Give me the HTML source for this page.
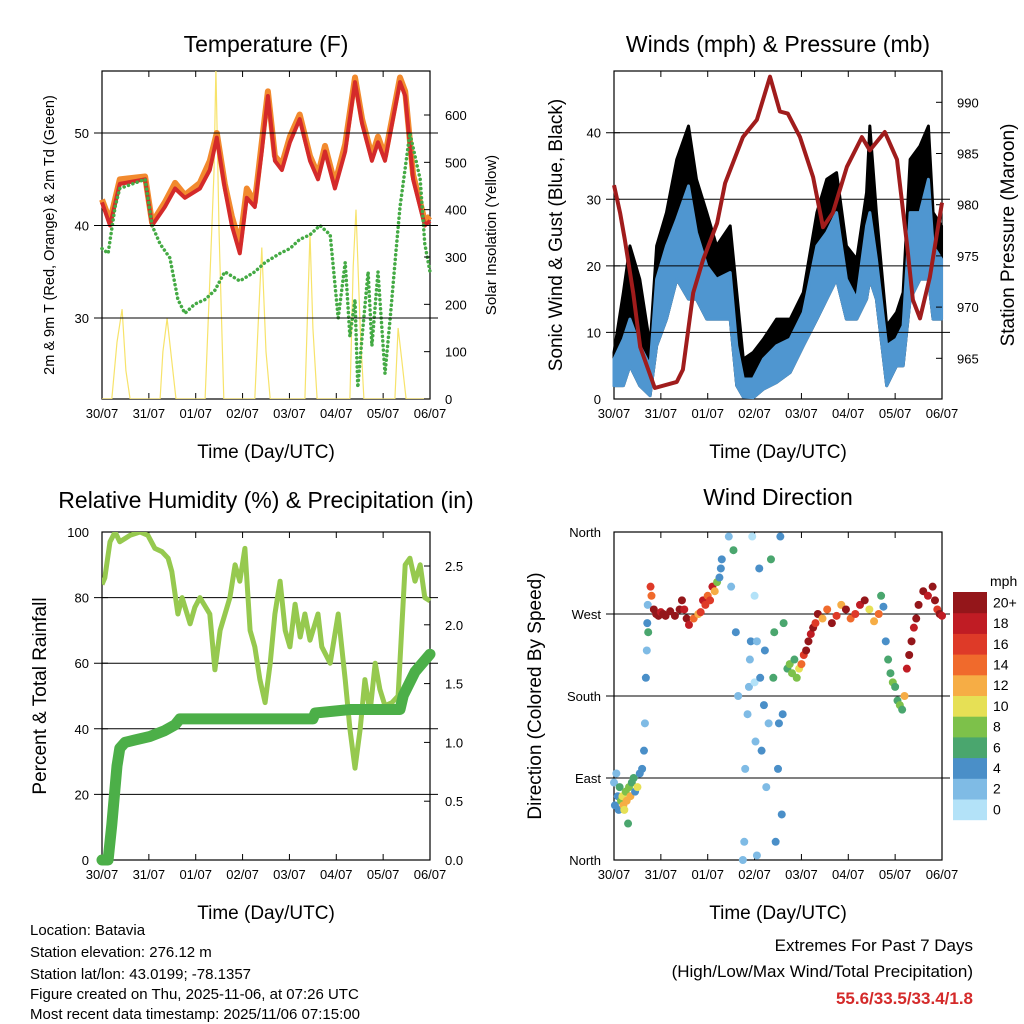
<!DOCTYPE html>
<html><head><meta charset="utf-8">
<style>
html,body{margin:0;padding:0;background:#fff;}
svg{display:block;font-family:"Liberation Sans",Arial,sans-serif;}
</style></head>
<body>
<svg id="c" width="1024" height="1024" viewBox="0 0 1024 1024" xmlns="http://www.w3.org/2000/svg">
<rect width="1024" height="1024" fill="#fff"/>
<text x="266" y="52" font-size="23" text-anchor="middle">Temperature (F)</text>
<text x="778" y="52" font-size="23" text-anchor="middle">Winds (mph) &amp; Pressure (mb)</text>
<text x="266" y="508" font-size="23" text-anchor="middle">Relative Humidity (%) &amp; Precipitation (in)</text>
<text x="778" y="505" font-size="23" text-anchor="middle">Wind Direction</text>
<text transform="translate(54,235) rotate(-90)" font-size="14.5" text-anchor="middle">2m &amp; 9m T (Red, Orange) &amp; 2m Td (Green)</text>
<text transform="translate(496,235) rotate(-90)" font-size="15" text-anchor="middle">Solar Insolation (Yellow)</text>
<text transform="translate(562,235) rotate(-90)" font-size="19" text-anchor="middle">Sonic Wind &amp; Gust (Blue, Black)</text>
<text transform="translate(1014,235) rotate(-90)" font-size="19" text-anchor="middle">Station Pressure (Maroon)</text>
<text transform="translate(46,696) rotate(-90)" font-size="19" text-anchor="middle">Percent &amp; Total Rainfall</text>
<text transform="translate(541,696) rotate(-90)" font-size="19" text-anchor="middle">Direction (Colored By Speed)</text>
<text x="266" y="458" font-size="19" text-anchor="middle">Time (Day/UTC)</text>
<text x="778" y="458" font-size="19" text-anchor="middle">Time (Day/UTC)</text>
<text x="266" y="919" font-size="19" text-anchor="middle">Time (Day/UTC)</text>
<text x="778" y="919" font-size="19" text-anchor="middle">Time (Day/UTC)</text>
<g font-size="15">
<text x="30" y="935">Location: Batavia</text>
<text x="30" y="957">Station elevation: 276.12 m</text>
<text x="30" y="979">Station lat/lon: 43.0199; -78.1357</text>
<text x="30" y="999">Figure created on Thu, 2025-11-06, at 07:26 UTC</text>
<text x="30" y="1019">Most recent data timestamp: 2025/11/06 07:15:00</text>
</g>
<g font-size="17" text-anchor="end">
<text x="973" y="951">Extremes For Past 7 Days</text>
<text x="973" y="977">(High/Low/Max Wind/Total Precipitation)</text>
<text x="973" y="1004" fill="#d42a2a" font-weight="bold">55.6/33.5/33.4/1.8</text>
</g>
</svg>
<script>
// ---------- data ----------
const dayLabels = ["30/07","31/07","01/07","02/07","03/07","04/07","05/07","06/07"];
const tempTicks = [30,40,50];
const solarTicks = [0,100,200,300,400,500,600];
const windTicks = [0,10,20,30,40];
const presTicks = [965,970,975,980,985,990];
const rhTicks = [0,20,40,60,80,100];
const rainTicks = ["0.0","0.5","1.0","1.5","2.0","2.5"];
const dirTickLabels = ["North","East","South","West","North"];
const speedBins = ["0","2","4","6","8","10","12","14","16","18","20+"];
const speedColors = ["#b3e2f8","#7fbbe5","#4a8fc8","#4aa66e","#7dc14a","#e6e055","#f6ad45","#f06a2c","#de3a28","#c01c24","#94161a"];

const tempDays = [0,.17,.38,.92,1.07,1.34,1.56,1.77,2.09,2.3,2.45,2.62,2.77,2.94,3.09,3.26,3.41,3.54,3.69,3.84,4.01,4.22,4.44,4.61,4.76,4.97,5.19,5.4,5.55,5.76,5.89,6.04,6.36,6.47,6.64,6.89,7];
const temp2m = [42.5,40,44.5,45,40,42,44,43,44,46,49.5,44,40,37,43,42,48,54,47,46,49,51.5,47,45,48,44,48,55.5,51,47,49,47,55.5,54,45,40,40.5];
const temp9m = [42.8,40.5,45,45.3,40.3,42.5,44.6,43.3,44.6,47,50,44.5,41,38,44,42.5,49,54.5,47.5,46.6,49.6,52,47.5,45.5,48.6,44.5,48.8,56,51.5,47.5,49.6,47.5,56,54.5,45.5,40.5,41];
const dewDays = [0,.13,.28,.38,.92,1.07,1.24,1.45,1.62,1.77,1.98,2.2,2.41,2.62,2.94,3.26,3.48,3.8,4.01,4.22,4.44,4.65,4.87,5.04,5.19,5.29,5.4,5.46,5.55,5.68,5.76,5.89,6.04,6.15,6.27,6.36,6.57,6.79,6.89,7];
const dewPoint = [37.5,37,42,44,45,40,38,36.5,32,30.5,31.5,32,33,35,34,35,36,37,37.5,38.5,39,40,39,30,36,28,32,22.5,28,35,27,35,24,30,37,42,50,45,38,35];
const solarDays = [0,.21,.32,.43,.51,.6,1.24,1.3,1.39,1.49,1.58,2.2,2.3,2.39,2.43,2.5,2.6,3.26,3.33,3.41,3.5,3.59,4.33,4.44,4.5,4.59,5.29,5.36,5.42,5.51,5.59,6.25,6.32,6.4,6.49,7];
const solar = [0,0,120,190,60,0,0,100,170,80,0,0,250,480,700,350,0,0,150,320,100,0,0,350,150,0,0,280,400,150,0,0,150,80,0,0];

const presDays = [0,.13,.23,.41,.56,.87,1.34,1.47,1.69,1.9,2.2,2.37,2.75,3.05,3.33,3.54,3.71,3.97,4.25,4.46,4.67,4.97,5.29,5.46,5.78,6.04,6.25,6.38,6.53,6.74,7];
const pressure = [981.9,979.2,976.6,971.4,966.1,962.1,962.7,963.9,971.4,974.6,978.2,982.1,986.6,988.3,992.5,989.1,988.9,986.6,982.7,977.8,979.2,983.7,986.6,985.3,987.1,984.4,976.2,970.7,968.9,972.9,980.2];
const windDays = [0,.2,.34,.55,.77,.91,1.12,1.34,1.59,1.76,1.98,2.19,2.48,2.62,2.76,2.97,3.19,3.47,3.76,4.04,4.33,4.54,4.75,4.96,5.18,5.39,5.46,5.6,5.82,6.03,6.17,6.32,6.53,6.71,6.81,6.99];
const windLo = [2,2,5,2,0.5,8,12,18,15,15,12,12,12,2,0.3,0.2,1.5,2.5,4,8,12,15,18,12,12,15,18,15,2,5,5,15,18,18,12,12];
const windHi = [6,9,12,8,5,18,23,27,32,25,20,18,19,8,3,3,6,8,9,13,23,25,28,18,15,26,28,21,8,9,11,28,28,33,23,21];
const gustHi = [7,16,23,18,8,23,28,36,41,33,28,23,26,16,6,7,9,12,12,16,28,33,34,23,21,31,41,28,11,13,16,36,38,41,28,26];

const dirDays = [0,.02,.05,.08,.1,.12,.15,.18,.2,.22,.25,.27,.3,.32,.35,.38,.42,.45,.5,.55,.6,.64,.66,.68,.7,.71,.72,.73,
 .78,.8,.85,.9,.95,1.0,1.05,1.1,1.2,1.3,1.4,1.45,1.5,1.55,1.6,1.7,1.8,1.85,1.9,1.95,2.0,2.05,2.1,2.15,2.2,2.25,2.28,2.3,2.45,2.5,2.55,2.6,2.65,
 2.75,2.78,2.8,2.85,2.88,2.9,2.92,2.95,3.0,3.0,3.02,3.05,3.05,3.1,3.12,3.15,3.2,3.22,3.25,3.3,3.35,3.4,3.42,3.45,3.5,3.52,3.55,3.58,3.6,3.62,
 3.7,3.75,3.8,3.85,3.9,3.95,4.0,4.05,4.1,4.15,4.2,4.25,4.3,4.35,4.45,4.55,4.65,4.75,4.85,4.95,5.05,5.15,5.25,5.35,5.45,5.55,5.65,5.7,5.75,
 5.8,5.85,5.9,5.95,6.0,6.05,6.1,6.15,6.2,6.25,6.3,6.35,6.4,6.45,6.5,6.6,6.7,6.8,6.85,6.9,6.95,7.0];
const dirDeg = [85,60,95,70,55,80,65,70,60,55,75,65,40,80,70,85,90,75,80,95,100,120,150,200,230,260,280,250,
 300,290,275,270,268,272,270,268,273,268,275,285,275,265,258,265,270,272,285,280,290,285,300,295,305,310,320,330,355,300,340,250,180,
 0,20,100,160,190,220,240,355,290,195,130,5,240,320,200,120,170,230,80,150,330,200,250,20,100,150,355,50,160,260,
 210,215,205,220,200,210,215,225,230,240,248,255,260,270,265,275,260,268,280,275,265,270,280,285,275,262,270,290,278,
 240,220,205,195,190,175,170,165,180,210,225,240,255,265,280,295,290,300,285,275,270,268];
const dirSpd = [2,4,2,4,4,6,8,10,12,10,8,12,6,8,12,6,6,4,10,4,4,4,2,4,2,4,2,6,
 16,14,20,20,20,18,20,20,20,20,20,20,18,20,18,14,12,16,18,16,14,16,18,12,8,4,4,4,2,2,6,4,2,
 2,2,2,2,2,2,4,0,0,0,2,2,2,4,4,4,4,4,2,2,6,6,6,4,4,4,4,4,4,6,
 6,8,8,6,8,10,14,16,20,20,18,20,16,20,12,14,20,16,12,20,14,16,18,20,10,12,14,6,4,
 4,6,6,8,6,6,8,6,12,18,20,20,18,20,20,20,18,20,20,16,20,18];

const rhDays = [0,.06,.17,.28,.38,.6,.81,.98,1.13,1.28,1.41,1.49,1.62,1.71,1.88,1.98,2.09,2.3,2.41,2.52,2.73,2.84,2.94,3.05,3.16,3.26,3.37,3.48,3.59,3.69,3.8,3.91,4.01,4.12,4.23,4.33,4.44,4.61,4.69,4.87,5.04,5.19,5.29,5.4,5.51,5.61,5.72,5.83,5.93,6.04,6.19,6.32,6.47,6.57,6.68,6.79,6.89,7];
const rh = [84,86,97,100,97,99,100,99,95,94,92,88,75,80,72,77,80,75,58,70,80,90,85,95,70,65,55,48,60,75,85,70,65,78,68,75,67,75,65,60,75,55,40,28,40,55,45,60,52,47,48,50,90,92,85,90,80,79];
const rainDays = [0,.13,.21,.32,.38,.49,.7,1.02,1.34,1.56,1.66,4.5,4.55,5.3,6.36,6.43,6.68,7];
const rain = [0,0,.3,.8,.95,1.0,1.02,1.05,1.1,1.15,1.2,1.2,1.25,1.28,1.28,1.4,1.6,1.75];

// ---------- helpers ----------
const NS = "http://www.w3.org/2000/svg";
const svg = document.getElementById("c");
function el(tag, attrs, parent) {
  const e = document.createElementNS(NS, tag);
  for (const k in attrs) e.setAttribute(k, attrs[k]);
  (parent || svg).appendChild(e);
  return e;
}
function lin(d0, d1, r0, r1) { return v => r0 + (v - d0) / (d1 - d0) * (r1 - r0); }
function pathD(xs, ys, fx, fy) { return xs.map((d, i) => (i ? "L" : "M") + fx(d).toFixed(1) + "," + fy(ys[i]).toFixed(1)).join(""); }

const P = { tl:{x0:102,x1:430,y0:71,y1:399}, tr:{x0:614,x1:942,y0:71,y1:399}, bl:{x0:102,x1:430,y0:532,y1:860}, br:{x0:614,x1:942,y0:532,y1:860} };

function frame(p, name) {
  const g = el("g", {});
  
  
  el("rect", {x:p.x0, y:p.y0, width:p.x1-p.x0, height:p.y1-p.y0, fill:"none", stroke:"#000", "stroke-width":1.2}, g);
  const fx = lin(0, 7, p.x0, p.x1);
  dayLabels.forEach((lab, i) => {
    const x = fx(i);
    el("line", {x1:x, x2:x, y1:p.y1, y2:p.y1-6, stroke:"#000"}, g);
    el("line", {x1:x, x2:x, y1:p.y0, y2:p.y0+6, stroke:"#000"}, g);
    const t = el("text", {x:x, y:p.y1+19, "font-size":13, "text-anchor":"middle"}, g);
    t.textContent = lab;
    
    
  });
  return fx;
}
function yAxis(p, ticks, labels, fy, side, grid, name) {
  const g = el("g", {});
  
  
  ticks.forEach((v, i) => {
    const y = fy(v);
    if (grid && y > p.y0 + 2 && y < p.y1 - 2) el("line", {x1:p.x0-8, x2:p.x1+8, y1:y, y2:y, stroke:"#000", "stroke-width":1}, g);
    if (side === "l") {
      el("line", {x1:p.x0, x2:p.x0+6, y1:y, y2:y, stroke:"#000"}, g);
      const t = el("text", {x:p.x0-13, y:y+5, "font-size":13, "text-anchor":"end"}, g);
      t.textContent = labels[i];
    } else {
      el("line", {x1:p.x1, x2:p.x1-6, y1:y, y2:y, stroke:"#000"}, g);
      const t = el("text", {x:p.x1+15, y:y+5, "font-size":13, "text-anchor":"start"}, g);
      t.textContent = labels[i];
    }
  });
}

// ---------- temperature ----------
(function(){
  const p = P.tl;
  const fx = frame(p, "temperature");
  const fy = lin(30, 50, 318, 133);
  const fs = lin(0, 600, 399, 115);
  const clip = el("clipPath", {id:"ctl"}); el("rect", {x:p.x0, y:p.y0, width:p.x1-p.x0, height:p.y1-p.y0}, clip);
  const s = el("path", {d:pathD(solarDays, solar, fx, fs), fill:"none", stroke:"#f7e36a", "stroke-width":1.2, "clip-path":"url(#ctl)"});
  
  
  const o = el("path", {d:pathD(tempDays, temp9m, fx, fy), fill:"none", stroke:"#f28a2e", "stroke-width":6, "stroke-linejoin":"round"});
  
  
  const r = el("path", {d:pathD(tempDays, temp2m, fx, fy), fill:"none", stroke:"#d42a2a", "stroke-width":4, "stroke-linejoin":"round"});
  
  
  const d = el("path", {d:pathD(dewDays, dewPoint, fx, fy), fill:"none", stroke:"#44aa44", "stroke-width":3.5, "stroke-dasharray":"0.1 4.5", "stroke-linecap":"round"});
  
  
  yAxis(p, tempTicks, tempTicks, fy, "l", true, "temperature-y-axis");
  yAxis(p, solarTicks, solarTicks, fs, "r", false, "solar-y-axis");
})();

// ---------- winds ----------
(function(){
  const p = P.tr;
  const fx = frame(p, "winds");
  const fy = lin(0, 40, 399, 132.7);
  const fp = lin(965, 990, 358.3, 102.3);
  const gustPoly = windDays.map((d,i)=>fx(d)+","+fy(gustHi[i])).concat(windDays.slice().reverse().map((d,j)=>{const i=windDays.length-1-j;return fx(d)+","+fy(windLo[i]);})).join(" ");
  const gb = el("polygon", {points:gustPoly, fill:"#000", stroke:"#000", "stroke-width":3, "stroke-linejoin":"round"});
  
  
  const windPoly = windDays.map((d,i)=>fx(d)+","+fy(windHi[i])).concat(windDays.slice().reverse().map((d,j)=>{const i=windDays.length-1-j;return fx(d)+","+fy(windLo[i]);})).join(" ");
  const wb = el("polygon", {points:windPoly, fill:"#4f96d0", stroke:"#4f96d0", "stroke-width":3, "stroke-linejoin":"round"});
  
  
  yAxis(p, windTicks, windTicks, fy, "l", true, "wind-y-axis");
  yAxis(p, presTicks, presTicks, fp, "r", false, "pressure-y-axis");
  const pl = el("path", {d:pathD(presDays, pressure, fx, fp), fill:"none", stroke:"#a01c1c", "stroke-width":4, "stroke-linejoin":"round"});
  
  
})();

// ---------- humidity ----------
(function(){
  const p = P.bl;
  const fx = frame(p, "humidity");
  const fy = lin(0, 100, 860, 532);
  const fr = lin(0, 2.5, 860, 566);
  yAxis(p, rhTicks, rhTicks, fy, "l", true, "humidity-y-axis");
  yAxis(p, rainTicks.map(Number), rainTicks, fr, "r", false, "rain-y-axis");
  const clip = el("clipPath", {id:"cbl"}); el("rect", {x:p.x0, y:p.y0, width:p.x1-p.x0+8, height:p.y1-p.y0+8}, clip);
  const h = el("path", {d:pathD(rhDays, rh, fx, fy), fill:"none", stroke:"#96c94f", "stroke-width":5, "stroke-linejoin":"round", "clip-path":"url(#cbl)"});
  
  
  const r = el("path", {d:pathD(rainDays, rain, fx, fr), fill:"none", stroke:"#4caf48", "stroke-width":11, "stroke-linejoin":"round", "stroke-linecap":"round"});
  
  
})();

// ---------- wind direction ----------
(function(){
  const p = P.br;
  const fx = frame(p, "wind-direction");
  const fy = lin(0, 360, 860, 532);
  const ticks = [0,90,180,270,360];
  yAxis(p, ticks, dirTickLabels, fy, "l", true, "direction-y-axis");
  const g = el("g", {});
  
  
  dirDays.forEach((d, i) => {
    if (dirDeg[i] === undefined || dirSpd[i] === undefined) return;
    const bin = Math.min(10, Math.max(0, Math.round(dirSpd[i] / 2)));
    const c = el("circle", {cx:fx(d), cy:fy(dirDeg[i]), r:4, fill:speedColors[bin]}, g);
    
    
  });
  // colorbar
  const cb = el("g", {});
  
  
  const bx = 953, bw = 34, top = 592, bh = 20.7;
  const ut = el("text", {x:990, y:586, "font-size":14, "text-anchor":"start"}, cb); ut.textContent = "mph";
  speedBins.forEach((lab, i) => {
    const y = top + (10 - i) * bh;
    const r = el("rect", {x:bx, y:y, width:bw, height:bh+0.5, fill:speedColors[i]}, cb);
    
    
    const t = el("text", {x:993, y:y+bh/2+5, "font-size":14}, cb);
    t.textContent = lab;
  });
})();
</script>
</body></html>
